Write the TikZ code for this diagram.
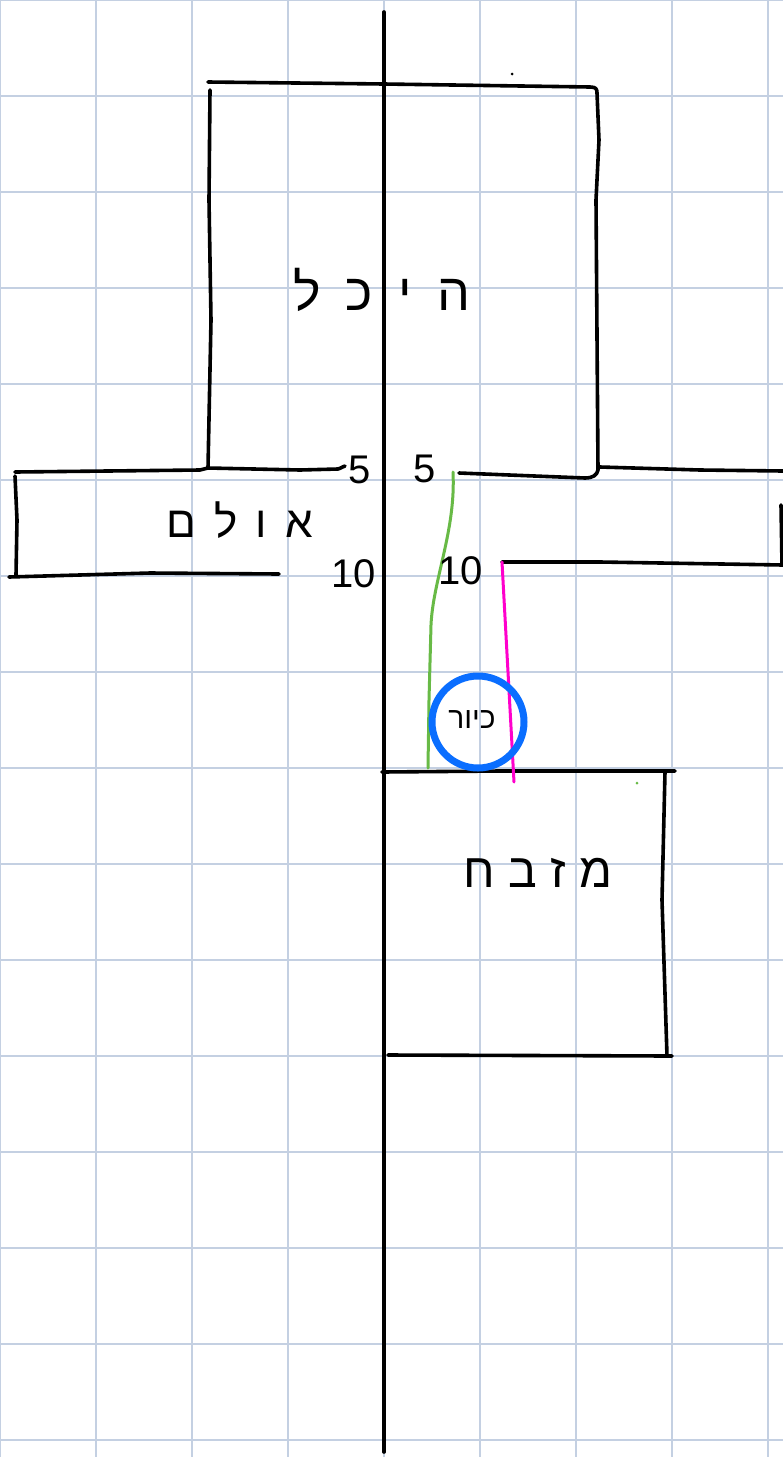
\documentclass[tikz,border=0pt]{standalone}
\usepackage{fontspec}
\setmainfont{Liberation Sans}
\newfontfamily\hebfont[Script=Hebrew]{Liberation Sans}
\TeXXeTstate=1
\definecolor{gridc}{RGB}{196,208,226}
\definecolor{kblue}{RGB}{10,110,255}
\definecolor{kgreen}{RGB}{104,186,70}
\definecolor{kmag}{RGB}{255,0,204}
\begin{document}
\begin{tikzpicture}[x=1pt,y=-1pt,
  gridline/.style={draw=gridc,line width=1.6pt},
  ink/.style={draw=black,line width=3.6pt,line cap=round,line join=round},
  heblabel/.style={inner sep=0pt,font=\hebfont},
  numlabel/.style={inner sep=0pt,font=\fontsize{40}{42}\selectfont}]
\useasboundingbox (0,0) rectangle (783,1457);
\fill[white] (0,0) rectangle (783,1457);
% grid
\foreach \x in {0,96,...,768} \draw[gridline] (\x,0) -- (\x,1457);
\foreach \y in {0,96,...,1440} \draw[gridline] (0,\y) -- (783,\y);
% axis
\draw[ink] (384,12) -- (384,1452);
% hekhal
\draw[ink] (208,82) -- (384,84) -- (590,87) .. controls (596,87) and (597,89) .. (597,93);
\draw[ink] (597,93) -- (599,140) -- (596,200) -- (598,470);
\draw[ink] (210,90) -- (209,200) -- (211,320) -- (208,468);
% ulam left
\draw[ink] (15,472) -- (200,470) -- (208,468) -- (300,470) -- (338,469) .. controls (342,468) and (343,466) .. (345,466);
\draw[ink] (15,476) -- (17,520) -- (16,575);
\draw[ink] (9,577) -- (150,573) -- (279,574);
% ulam right
\draw[ink] (459,473) -- (585,478) .. controls (593,478) and (597,475) .. (598,470);
\draw[ink] (600,467) -- (700,470) -- (783,471);
\draw[ink] (781,505) -- (782,565);
\draw[ink] (502,562) -- (600,562) -- (783,565);
% mizbeach
\draw[ink] (382,772) -- (500,771) -- (675,771);
\draw[ink] (665,772) -- (662,900) -- (667,1056);
\draw[ink] (388,1055) -- (672,1056);
% green, magenta
\draw[draw=kgreen,line width=3pt,line cap=round] (453,472) .. controls (456,530) and (433,580) .. (431,625) -- (429,700) -- (428,768);
\draw[draw=kmag,line width=3pt,line cap=round] (502,562) -- (514,782);
% kiyor
\draw[draw=kblue,line width=7pt] (478,722) circle (46);
% dots
\fill (512,74) circle (1.5);
\fill[kgreen] (637,783) circle (1.5);
% labels
\node[heblabel,font=\hebfont\fontsize{52}{56}\selectfont] (hekhal) at (382,290) {\addfontfeature{LetterSpace=50}\beginR היכל\endR};
\node[heblabel,font=\hebfont\fontsize{44}{48}\selectfont] (ulam) at (240,520) {\addfontfeature{LetterSpace=42}\beginR אולם\endR};
\node[heblabel,font=\hebfont\fontsize{48}{52}\selectfont] (mizbeach) at (538,873) {\addfontfeature{LetterSpace=28}\beginR מזבח\endR};
\node[heblabel,font=\hebfont\fontsize{30}{32}\selectfont] (kiyor) at (472,720) {\beginR כיור\endR};
\node[numlabel] (fiveL) at (360,470) {5};
\node[numlabel] (fiveR) at (425,469) {5};
\node[numlabel] (tenL) at (354,574) {10};
\node[numlabel] (tenR) at (461,571) {10};
\end{tikzpicture}
\end{document}
